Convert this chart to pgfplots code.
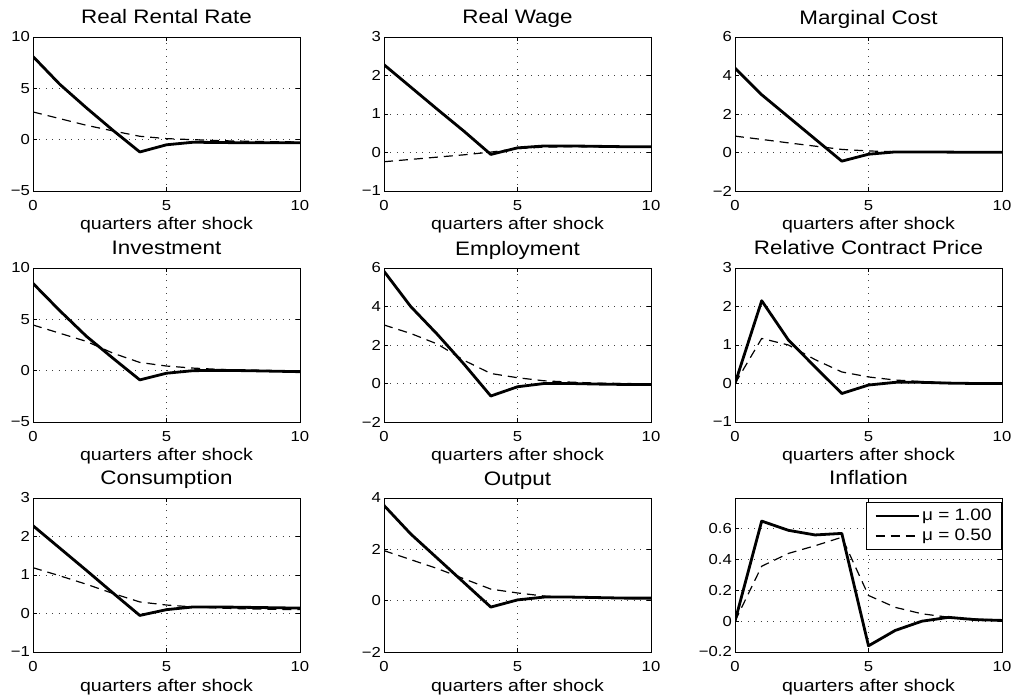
\documentclass[border=0pt]{standalone}
\usepackage{fontspec}
\setmainfont{Liberation Sans}[FakeStretch=1.15]
\usepackage{pgfplots}
\pgfplotsset{compat=1.18}
\pgfplotsset{
  panel/.style={
    scale only axis, width=267pt, height=154pt, anchor=south west,
    xmin=0, xmax=10, xtick={0,5,10}, xticklabels={0,5,10},
    grid=major, grid style={black!75, line width=0.6pt, dash pattern=on 0.8pt off 5.6pt},
    axis line style={black, line width=0.9pt},
    tick style={black, line width=0.6pt}, major tick length=4pt, tick align=inside,
    ticklabel style={font=\fontsize{14.5}{16}\selectfont},
    xticklabel style={anchor=base, inner sep=0pt, yshift=-19.5pt},
    yticklabel style={anchor=east, inner sep=0pt, xshift=-3pt},
    title style={at={(axis description cs:0.5,1)}, anchor=base, yshift=7pt, inner sep=0pt, font=\fontsize{19.5}{22}\selectfont},
    xlabel={quarters after shock},
    xlabel style={at={(axis description cs:0.5,0)}, anchor=base, yshift=-39pt, inner sep=0pt, font=\fontsize{17}{19}\selectfont},
  },
  s1/.style={black, line width=2.8pt, line join=round, mark=none},
  s2/.style={black, line width=1.2pt, dash pattern=on 9pt off 6pt, mark=none},
}
\begin{document}
\begin{tikzpicture}
\useasboundingbox (0pt,0pt) rectangle (1015pt,699pt);
% Row 1
\begin{axis}[panel, at={(33pt,508pt)}, title={Real Rental Rate},
  ymin=-5, ymax=10, ytick={-5,0,5,10}, yticklabels={−5,0,5,10}]
\addplot[s1] coordinates {(0,8.1)(1,5.4)(2,3.1)(3,0.9)(4,-1.2)(5,-0.5)(6,-0.25)(7,-0.28)(8,-0.3)(9,-0.3)(10,-0.3)};
\addplot[s2] coordinates {(0,2.7)(1,2.05)(2,1.4)(3,0.85)(4,0.33)(5,0.1)(6,0.0)(7,-0.1)(8,-0.15)(9,-0.2)(10,-0.22)};
\end{axis}
\begin{axis}[panel, at={(384pt,508pt)}, title={Real Wage},
  ymin=-1, ymax=3, ytick={-1,0,1,2,3}, yticklabels={−1,0,1,2,3}]
\addplot[s1] coordinates {(0,2.28)(1,1.7)(2,1.12)(3,0.55)(4,-0.05)(5,0.12)(6,0.17)(7,0.17)(8,0.16)(9,0.15)(10,0.15)};
\addplot[s2] coordinates {(0,-0.24)(1,-0.18)(2,-0.12)(3,-0.06)(4,0.01)(5,0.1)(6,0.14)(7,0.15)(8,0.15)(9,0.15)(10,0.14)};
\end{axis}
\begin{axis}[panel, at={(735pt,508pt)}, title={Marginal Cost},
  ymin=-2, ymax=6, ytick={-2,0,2,4,6}, yticklabels={−2,0,2,4,6}]
\addplot[s1] coordinates {(0,4.38)(1,3.0)(2,1.85)(3,0.7)(4,-0.45)(5,-0.09)(6,0.03)(7,0.03)(8,0.02)(9,0.01)(10,0.01)};
\addplot[s2] coordinates {(0,0.85)(1,0.68)(2,0.5)(3,0.33)(4,0.16)(5,0.08)(6,0.04)(7,0.03)(8,0.02)(9,0.01)(10,0.01)};
\end{axis}
% Row 2
\begin{axis}[panel, at={(33pt,277pt)}, title={Investment},
  ymin=-5, ymax=10, ytick={-5,0,5,10}, yticklabels={−5,0,5,10}]
\addplot[s1] coordinates {(0,8.5)(1,5.85)(2,3.35)(3,1.2)(4,-0.9)(5,-0.25)(6,0.0)(7,0.03)(8,0.0)(9,-0.05)(10,-0.1)};
\addplot[s2] coordinates {(0,4.45)(1,3.65)(2,2.85)(3,1.7)(4,0.8)(5,0.45)(6,0.25)(7,0.12)(8,0.05)(9,0.0)(10,-0.05)};
\end{axis}
\begin{axis}[panel, at={(384pt,277pt)}, title={Employment},
  ymin=-2, ymax=6, ytick={-2,0,2,4,6}, yticklabels={−2,0,2,4,6}]
\addplot[s1] coordinates {(0,5.83)(1,4.0)(2,2.55)(3,1.0)(4,-0.65)(5,-0.17)(6,0.0)(7,0.0)(8,-0.03)(9,-0.05)(10,-0.05)};
\addplot[s2] coordinates {(0,3.04)(1,2.6)(2,2.05)(3,1.2)(4,0.52)(5,0.3)(6,0.14)(7,0.07)(8,0.02)(9,0.0)(10,-0.02)};
\end{axis}
\begin{axis}[panel, at={(735pt,277pt)}, title={Relative Contract Price},
  ymin=-1, ymax=3, ytick={-1,0,1,2,3}, yticklabels={−1,0,1,2,3}]
\addplot[s1] coordinates {(0,0)(1,2.15)(2,1.13)(3,0.43)(4,-0.26)(5,-0.04)(6,0.03)(7,0.03)(8,0.01)(9,0.0)(10,0.0)};
\addplot[s2] coordinates {(0,0)(1,1.17)(2,1.0)(3,0.62)(4,0.3)(5,0.17)(6,0.09)(7,0.05)(8,0.02)(9,0.01)(10,0.0)};
\end{axis}
% Row 3
\begin{axis}[panel, at={(33pt,47pt)}, title={Consumption},
  ymin=-1, ymax=3, ytick={-1,0,1,2,3}, yticklabels={−1,0,1,2,3}]
\addplot[s1] coordinates {(0,2.28)(1,1.7)(2,1.12)(3,0.53)(4,-0.05)(5,0.1)(6,0.17)(7,0.17)(8,0.16)(9,0.15)(10,0.14)};
\addplot[s2] coordinates {(0,1.19)(1,0.98)(2,0.76)(3,0.52)(4,0.3)(5,0.22)(6,0.17)(7,0.14)(8,0.12)(9,0.11)(10,0.1)};
\end{axis}
\begin{axis}[panel, at={(384pt,47pt)}, title={Output},
  ymin=-2, ymax=4, ytick={-2,0,2,4}, yticklabels={−2,0,2,4}]
\addplot[s1] coordinates {(0,3.71)(1,2.6)(2,1.65)(3,0.7)(4,-0.25)(5,0.03)(6,0.14)(7,0.14)(8,0.12)(9,0.1)(10,0.1)};
\addplot[s2] coordinates {(0,1.95)(1,1.6)(2,1.25)(3,0.85)(4,0.45)(5,0.3)(6,0.18)(7,0.13)(8,0.1)(9,0.09)(10,0.08)};
\end{axis}
\begin{axis}[panel, at={(735pt,47pt)}, title={Inflation},
  ymin=-0.2, ymax=0.8, ytick={-0.2,0,0.2,0.4,0.6}, yticklabels={−0.2,0,0.2,0.4,0.6},
  legend style={at={(axis description cs:1,1)}, anchor=north east, xshift=0pt, yshift=-4pt,
    draw=black, line width=0.8pt, fill=white, font=\fontsize{16.5}{18}\selectfont,
    inner xsep=8pt, inner ysep=5pt, row sep=3pt, cells={anchor=west}},
  legend image code/.code={\draw[#1] (0pt,0pt) -- (43pt,0pt);}]
\addplot[s1] coordinates {(0,0)(1,0.65)(2,0.59)(3,0.56)(4,0.57)(5,-0.16)(6,-0.06)(7,0.0)(8,0.025)(9,0.01)(10,0.005)};
\addlegendentry{μ = 1.00\hspace{6pt}}
\addplot[s2] coordinates {(0,0)(1,0.357)(2,0.44)(3,0.49)(4,0.545)(5,0.167)(6,0.09)(7,0.048)(8,0.026)(9,0.015)(10,0.005)};
\addlegendentry{μ = 0.50\hspace{6pt}}
\end{axis}
\end{tikzpicture}
\end{document}
